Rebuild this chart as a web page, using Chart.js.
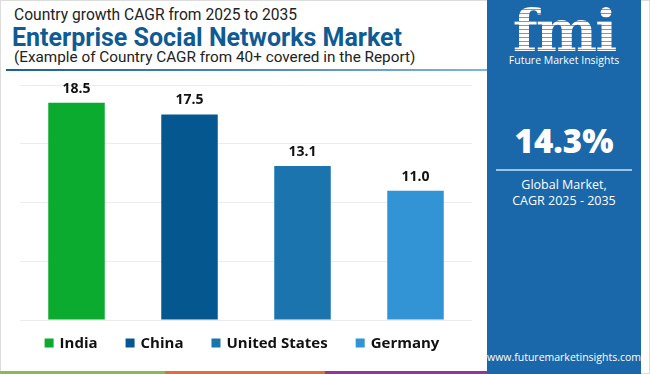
<!DOCTYPE html>
<html>
<head>
<meta charset="utf-8">
<script src="https://cdn.jsdelivr.net/npm/chart.js@4"></script>
<style>
  body { margin: 0; width: 650px; height: 374px; background: #fff; overflow: hidden; font-family: "Open Sans", sans-serif; }
  .frame { position: absolute; left: 0; top: 0; width: 648px; height: 372px; border: 1px solid #dcdcdc; }
  .t1 { position: absolute; left: 14px; top: 6px; font-family: Roboto, sans-serif; font-size: 15.6px; color: #222; }
  .t2 { position: absolute; left: 12px; top: 23px; font-family: Roboto, sans-serif; font-size: 25px; font-weight: 700; color: #0f5b94; }
  .t3 { position: absolute; left: 14px; top: 48px; font-family: Roboto, sans-serif; font-size: 15.3px; color: #222; }
  .rule { position: absolute; left: 6px; top: 69px; width: 481px; height: 2px; background: linear-gradient(to right, #1a5f97, #7fb4dc); }
  .panel { position: absolute; left: 487px; top: 0; width: 154px; height: 374px; background: #1a67a9; color: #fff; text-align: center; }
  .logo { position: absolute; left: 0; width: 154px; top: 2px; font-family: "DejaVu Serif", serif; font-size: 58px; font-weight: 700; line-height: 58px;
          background: repeating-linear-gradient(to bottom, #fff 0 3px, rgba(255,255,255,0.35) 3px 4px); -webkit-background-clip: text; background-clip: text; color: transparent; letter-spacing: -2px; }
  .fmi { position: absolute; left: 0; width: 154px; top: 53px; font-size: 10.5px; }
  .big { position: absolute; left: 0; width: 154px; top: 118px; font-size: 33px; font-weight: 800; }
  .line { position: absolute; left: 9px; top: 169px; width: 136px; height: 2px; background: #9cc3e6; }
  .sub { position: absolute; left: 0; width: 154px; top: 177px; font-size: 12.5px; line-height: 16px; }
  .www { position: absolute; left: 0; width: 154px; top: 350px; font-size: 10.5px; }
  .strip { position: absolute; top: 371px; height: 3px; }
  #wrap { position: absolute; left: 0; top: 72px; width: 487px; height: 298px; }
</style>
</head>
<body>
<div class="frame"></div>
<div class="t1">Country growth CAGR from 2025 to 2035</div>
<div class="t2">Enterprise Social Networks Market</div>
<div class="t3">(Example of Country CAGR from 40+ covered in the Report)</div>
<div class="rule"></div>
<div class="strip" style="left:0;width:165px;background:#8ab85a"></div>
<div class="strip" style="left:165px;width:160px;background:#d9703e"></div>
<div class="strip" style="left:325px;width:162px;background:#8e3a8e"></div>
<div class="panel">
  <div class="logo">fmi</div>
  <div class="fmi">Future Market Insights</div>
  <div class="big">14.3%</div>
  <div class="line"></div>
  <div class="sub">Global Market,<br>CAGR 2025 - 2035</div>
  <div class="www">www.futuremarketinsights.com</div>
</div>
<div id="wrap"><canvas id="chart"></canvas></div>
<script>
const countries = ['India', 'China', 'United States', 'Germany'];
const cagr = [18.5, 17.5, 13.1, 11.0];
const barColors = ['#0aab2e', '#04588f', '#1b74ae', '#3293d5'];

// value labels above each bar
const valueLabels = {
  id: 'valueLabels',
  afterDatasetsDraw(chart) {
    const ctx = chart.ctx;
    const meta = chart.getDatasetMeta(0);
    ctx.save();
    ctx.font = 'bold 14px "Open Sans", sans-serif';
    ctx.fillStyle = '#111';
    ctx.textAlign = 'center';
    ctx.textBaseline = 'bottom';
    meta.data.forEach((bar, i) => {
      ctx.fillText(cagr[i].toFixed(1), bar.x, bar.y - 7);
    });
    ctx.restore();
  }
};

// one legend entry per country, drawn under the plot
const countryLegend = {
  id: 'countryLegend',
  afterDraw(chart) {
    const ctx = chart.ctx;
    const area = chart.chartArea;
    const box = 9, gap = 6, spacing = 28;
    ctx.save();
    ctx.font = 'bold 15px "Open Sans", sans-serif';
    const widths = countries.map(c => box + gap + ctx.measureText(c).width);
    const total = widths.reduce((a, b) => a + b, 0) + spacing * (countries.length - 1);
    let x = (area.left + area.right) / 2 - 4 - total / 2;
    const y = area.bottom + 23;
    ctx.textBaseline = 'middle';
    countries.forEach((c, i) => {
      ctx.fillStyle = barColors[i];
      ctx.fillRect(x, y - box / 2, box, box);
      ctx.fillStyle = '#111';
      ctx.fillText(c, x + box + gap, y + 1);
      x += widths[i] + spacing;
    });
    ctx.restore();
  }
};

new Chart(document.getElementById('chart'), {
  type: 'bar',
  data: {
    labels: countries,
    datasets: [{
      data: cagr,
      backgroundColor: barColors,
      borderWidth: 0,
      categoryPercentage: 1,
      barPercentage: 0.5
    }]
  },
  options: {
    responsive: true,
    maintainAspectRatio: false,
    animation: false,
    layout: { padding: { left: 20, right: 15, top: 13, bottom: 42 } },
    scales: {
      x: {
        grid: { display: false },
        border: { display: false },
        ticks: { display: false }
      },
      y: {
        min: 0,
        max: 20,
        ticks: { display: false, stepSize: 5 },
        border: { display: false },
        grid: { color: '#ececec', drawTicks: false }
      }
    },
    plugins: {
      tooltip: { enabled: false },
      legend: { display: false }
    }
  },
  plugins: [valueLabels, countryLegend]
});
</script>
</body>
</html>
